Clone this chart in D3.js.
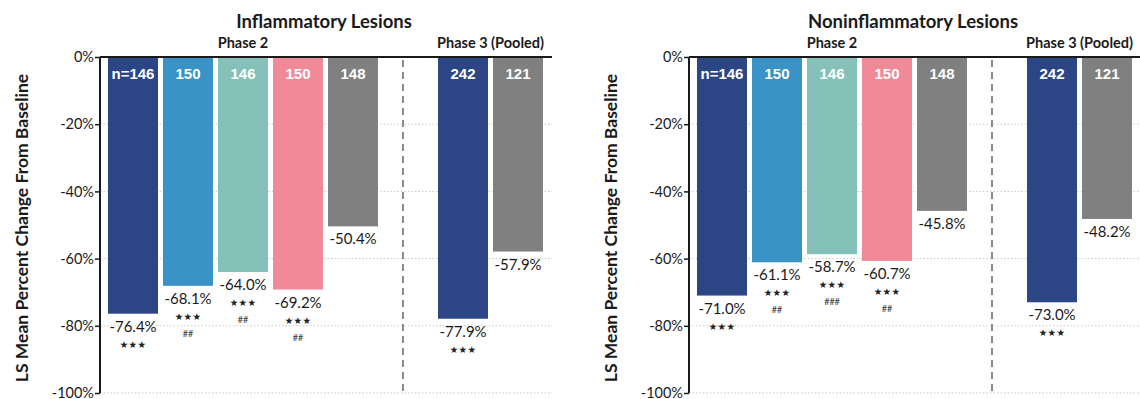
<!DOCTYPE html>
<html>
<head>
<meta charset="utf-8">
<script src="https://cdn.jsdelivr.net/npm/d3@7/dist/d3.min.js"></script>
<style>
  html, body { margin: 0; padding: 0; background: #fff; }
  svg { display: block; }
</style>
</head>
<body>
<svg id="chart" width="1140" height="399"></svg>
<script>
// Arms: four Phase 2 active arms + vehicle, then pooled Phase 3 active + vehicle
const armKeys = ["p2a", "p2b", "p2c", "p2d", "p2v", "gap", "p3a", "p3v"];
const barKeys = ["p2a", "p2b", "p2c", "p2d", "p2v", "p3a", "p3v"];
const nLabels = ["n=146", "150", "146", "150", "148", "242", "121"];
const barColors = ["#2c4585", "#3a93c7", "#86c1b9", "#f08a98", "#808080", "#2c4585", "#808080"];

const inflammatory = [-76.4, -68.1, -64.0, -69.2, -50.4, -77.9, -57.9];
const inflStars = ["***", "***", "***", "***", "", "***", ""];
const inflHashes = ["", "##", "##", "##", "", "", ""];

const noninflammatory = [-71.0, -61.1, -58.7, -60.7, -45.8, -73.0, -48.2];
const nonStars = ["***", "***", "***", "***", "", "***", ""];
const nonHashes = ["", "##", "###", "##", "", "", ""];

const yTicks = [0, -20, -40, -60, -80, -100];

const panels = [
  { title: "Inflammatory Lesions", values: inflammatory, stars: inflStars, hashes: inflHashes, offset: 0 },
  { title: "Noninflammatory Lesions", values: noninflammatory, stars: nonStars, hashes: nonHashes, offset: 589 }
];

const FONT = "Lato, 'Open Sans', sans-serif";
const svg = d3.select("#chart");

const y = d3.scaleLinear().domain([-100, 0]).range([393, 57]);
const x = d3.scaleBand().domain(armKeys).range([105.5, 545.5]).paddingInner(5 / 55).paddingOuter(2.5 / 55);
const axisX0 = 100, axisX1 = 552;
const pct = v => v.toFixed(1) + "%";

panels.forEach(p => {
  const g = svg.append("g").attr("transform", `translate(${p.offset},0)`);

  // dotted gridlines
  g.append("g").selectAll("line")
    .data(yTicks.filter(t => t !== 0))
    .join("line")
    .attr("x1", axisX0).attr("x2", axisX1)
    .attr("y1", d => y(d)).attr("y2", d => y(d))
    .attr("stroke", "#c8c8c8").attr("stroke-width", 1)
    .attr("stroke-dasharray", "1.5,2");

  // separator between Phase 2 and Phase 3
  const sepX = x("gap") + x.bandwidth() * 0.4;
  g.append("line")
    .attr("x1", sepX).attr("x2", sepX)
    .attr("y1", y(0) + 3).attr("y2", y(-100) + 2)
    .attr("stroke", "#6e6e6e").attr("stroke-width", 1.6)
    .attr("stroke-dasharray", "7,5");

  const rows = barKeys.map((k, i) => ({
    key: k, n: nLabels[i], v: p.values[i], color: barColors[i],
    stars: p.stars[i], hashes: p.hashes[i]
  }));

  // bars
  g.append("g").selectAll("rect")
    .data(rows)
    .join("rect")
    .attr("x", d => x(d.key))
    .attr("width", x.bandwidth())
    .attr("y", y(0))
    .attr("height", d => y(d.v) - y(0))
    .attr("fill", d => d.color);

  // n labels inside bars
  g.append("g").selectAll("text")
    .data(rows)
    .join("text")
    .attr("x", d => x(d.key) + x.bandwidth() / 2)
    .attr("y", y(0) + 22)
    .attr("text-anchor", "middle")
    .attr("fill", "#fff")
    .attr("font-family", "'Liberation Sans', Arial, sans-serif")
    .attr("font-weight", "bold")
    .attr("font-size", 15)
    .text(d => d.n);

  // value labels
  g.append("g").selectAll("text")
    .data(rows)
    .join("text")
    .attr("x", d => x(d.key) + x.bandwidth() / 2)
    .attr("y", d => y(d.v) + 18)
    .attr("text-anchor", "middle")
    .attr("fill", "#1a1a1a")
    .attr("font-family", FONT)
    .attr("font-size", 15)
    .text(d => pct(d.v));

  // significance vs vehicle
  g.append("g").selectAll("text")
    .data(rows.filter(d => d.stars))
    .join("text")
    .attr("x", d => x(d.key) + x.bandwidth() / 2)
    .attr("y", d => y(d.v) + 34)
    .attr("text-anchor", "middle")
    .attr("fill", "#222")
    .attr("font-family", "'DejaVu Sans', sans-serif")
    .attr("font-size", 9.5)
    .attr("letter-spacing", "0.3")
    .text(d => d.stars.replace(/\*/g, "\u2605"));

  // significance vs comparator
  g.append("g").selectAll("text")
    .data(rows.filter(d => d.hashes))
    .join("text")
    .attr("x", d => x(d.key) + x.bandwidth() / 2)
    .attr("y", d => y(d.v) + 51)
    .attr("text-anchor", "middle")
    .attr("fill", "#333")
    .attr("font-family", FONT)
    .attr("font-size", 9)
    .text(d => d.hashes);

  // y axis
  const yAxis = d3.axisLeft(y).tickValues(yTicks).tickSize(5).tickPadding(1)
    .tickFormat(d => d + "%");
  const ya = g.append("g").attr("transform", `translate(${axisX0},0)`).call(yAxis);
  ya.select(".domain").attr("stroke", "#1a1a1a").attr("stroke-width", 2)
    .attr("d", `M0,${y(0)}V${y(-100)}`);
  ya.selectAll(".tick line").attr("stroke", "#1a1a1a").attr("stroke-width", 1.5);
  ya.selectAll(".tick text").attr("font-family", FONT).attr("font-size", 14.5).attr("fill", "#1a1a1a");

  // zero baseline along the top
  g.append("line")
    .attr("x1", axisX0).attr("x2", axisX1)
    .attr("y1", y(0)).attr("y2", y(0))
    .attr("stroke", "#1a1a1a").attr("stroke-width", 2);

  // titles
  g.append("text")
    .attr("x", 324).attr("y", 28)
    .attr("text-anchor", "middle")
    .attr("font-family", FONT).attr("font-weight", "bold").attr("font-size", 18.5)
    .attr("fill", "#1a1a1a")
    .text(p.title);

  const p2Center = (x("p2a") + x("p2v") + x.bandwidth()) / 2;
  const p3Center = (x("p3a") + x("p3v") + x.bandwidth()) / 2;
  g.append("text")
    .attr("x", p2Center).attr("y", 48)
    .attr("text-anchor", "middle")
    .attr("font-family", FONT).attr("font-weight", "bold").attr("font-size", 14.5)
    .attr("fill", "#1a1a1a")
    .text("Phase 2");
  g.append("text")
    .attr("x", p3Center).attr("y", 48)
    .attr("text-anchor", "middle")
    .attr("font-family", FONT).attr("font-weight", "bold").attr("font-size", 14.5)
    .attr("fill", "#1a1a1a")
    .text("Phase 3 (Pooled)");

  // y-axis title
  g.append("text")
    .attr("transform", `translate(28,${(y(0) + y(-100)) / 2 + 3}) rotate(-90)`)
    .attr("text-anchor", "middle")
    .attr("font-family", FONT).attr("font-weight", "bold").attr("font-size", 17.5)
    .attr("fill", "#1a1a1a")
    .text("LS Mean Percent Change From Baseline");
});
</script>
</body>
</html>
